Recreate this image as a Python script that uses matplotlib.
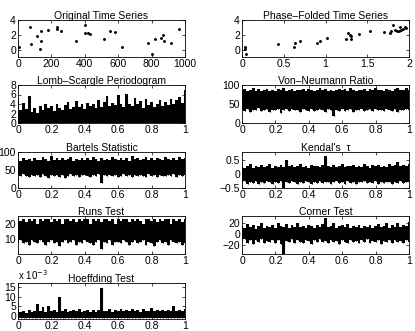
import numpy as np
import matplotlib
matplotlib.use('Agg')
import matplotlib.pyplot as plt

plt.rcParams['font.family'] = ['Liberation Sans', 'DejaVu Sans']

# original (unfolded) time series
t_orig = [5, 70, 76, 116, 130, 140, 140, 180, 234, 236, 256, 348, 400, 402, 418, 434,
          514, 550, 580, 624, 776, 802, 820, 856, 870, 872, 916, 966]
y_orig = [0.3, 3.1, 0.7, 1.9, 0.05, 2.5, 1.1, 2.6, 3.1, 2.8, 2.5, 1.1, 3.3, 2.3, 2.3, 2.1,
          1.4, 2.5, 2.4, 0.3, 0.9, -0.6, 1.4, 1.6, 2.0, 1.1, 0.85, 2.8]

# phase-folded series
phase = [0.03, 0.04, 0.05, 0.43, 0.62, 0.63, 0.69, 0.90, 0.94, 1.02, 1.25, 1.27, 1.29, 1.30,
         1.30, 1.40, 1.53, 1.70, 1.77, 1.79, 1.81, 1.83, 1.86, 1.88, 1.89, 1.91, 1.93, 1.95, 1.97]
y_phase = [0.3, 0.1, -0.6, 0.7, 0.3, 0.85, 1.1, 0.9, 1.1, 1.6, 1.4, 2.3, 2.0, 1.9,
           1.4, 2.1, 2.5, 2.4, 2.3, 2.5, 3.3, 2.6, 2.5, 2.5, 3.0, 2.6, 2.8, 3.1, 2.9]

# periodogram / statistic envelopes vs normalised frequency (upper, lower)
lomb_hi = [5.0, 2.8, 4.2, 3.0, 5.6, 2.4, 3.1, 2.2, 3.6, 2.7, 3.9, 3.1, 3.5, 2.6, 4.0, 3.2,
           2.8, 3.8, 4.4, 3.0, 3.3, 4.6, 3.4, 3.9, 2.9, 4.2, 3.6, 4.1, 3.2, 4.8, 3.4, 4.5,
           5.7, 3.6, 4.2, 3.8, 5.9, 4.0, 3.3, 6.2, 4.1, 3.5, 5.3, 3.9, 4.6, 3.2, 5.0, 3.7,
           4.4, 3.4, 4.1, 4.9, 3.5, 4.4, 3.8, 5.1, 3.9, 4.8, 5.5, 4.2, 7.0]
lomb_lo = [0.0] * 61

vn_hi = [86, 90, 84, 88, 91, 85, 89, 83, 87, 90, 85, 88, 84, 89, 86, 91, 85, 87, 90, 84,
         88, 86, 89, 85, 90, 87, 84, 88, 91, 86, 89, 85, 88, 84, 87, 90, 86, 89, 85, 91,
         87, 84, 88, 86, 90, 85, 89, 87, 91, 86, 88, 84, 90, 87, 85, 89, 91, 86, 88, 92, 87]
vn_lo = [36, 32, 38, 30, 35, 33, 39, 31, 34, 37, 29, 35, 33, 38, 26, 34, 36, 31, 37, 33,
         35, 30, 38, 34, 32, 36, 31, 35, 37, 33, 30, 36, 34, 18, 35, 32, 38, 31, 34, 36,
         30, 35, 33, 37, 31, 34, 36, 32, 38, 33, 35, 31, 37, 34, 32, 36, 30, 35, 33, 37, 34]

bartels_hi = [80, 76, 83, 78, 81, 75, 84, 79, 77, 85, 80, 76, 90, 79, 82, 77, 83, 78, 80, 86,
              76, 81, 79, 84, 77, 82, 78, 85, 80, 76, 83, 79, 81, 77, 86, 80, 78, 84, 79, 82,
              76, 88, 80, 83, 77, 81, 85, 79, 82, 78, 84, 80, 77, 86, 81, 79, 83, 78, 85, 80, 82]
bartels_lo = [36, 32, 38, 34, 30, 37, 33, 35, 31, 38, 34, 29, 36, 33, 37, 31, 35, 28, 34, 38,
              32, 36, 30, 35, 37, 33, 31, 36, 34, 38, 14, 35, 32, 37, 33, 36, 30, 34, 38, 32,
              35, 31, 37, 33, 36, 34, 30, 38, 33, 35, 31, 37, 34, 32, 36, 33, 38, 31, 35, 34, 37]

kendal_hi = [0.30, 0.22, 0.28, 0.35, 0.24, 0.30, 0.26, 0.33, 0.25, 0.29, 0.36, 0.24, 0.31,
             0.27, 0.34, 0.26, 0.50, 0.28, 0.32, 0.25, 0.30, 0.35, 0.27, 0.31, 0.24, 0.33,
             0.28, 0.30, 0.26, 0.34, 0.65, 0.29, 0.25, 0.32, 0.27, 0.30, 0.36, 0.26, 0.31,
             0.28, 0.33, 0.25, 0.30, 0.27, 0.35, 0.29, 0.24, 0.32, 0.28, 0.34, 0.26, 0.31,
             0.27, 0.38, 0.29, 0.33, 0.45, 0.28, 0.32, 0.30, 0.35]
kendal_lo = [-0.30, -0.24, -0.34, -0.27, -0.31, -0.25, -0.36, -0.28, -0.32, -0.26, -0.30,
             -0.35, -0.27, -0.31, -0.24, -0.50, -0.29, -0.33, -0.26, -0.30, -0.35, -0.27,
             -0.32, -0.25, -0.29, -0.34, -0.28, -0.31, -0.26, -0.33, -0.30, -0.27, -0.36,
             -0.29, -0.25, -0.32, -0.28, -0.34, -0.26, -0.31, -0.29, -0.35, -0.27, -0.30,
             -0.24, -0.33, -0.28, -0.31, -0.26, -0.34, -0.29, -0.32, -0.27, -0.30, -0.35,
             -0.28, -0.31, -0.26, -0.33, -0.29, -0.30]

runs_hi = [23, 22, 23, 21, 23, 22, 23, 20, 23, 22, 23, 23, 21, 23, 22, 23, 20, 23, 23, 22,
           23, 21, 23, 22, 23, 23, 20, 23, 22, 23, 21, 23, 23, 22, 23, 20, 23, 22, 23, 23,
           21, 23, 22, 23, 22, 20, 23, 23, 22, 23, 21, 23, 22, 23, 23, 20, 23, 22, 23, 21, 23]
runs_lo = [8, 9, 7, 8, 6, 9, 8, 7, 9, 8, 6, 8, 9, 7, 8, 5, 8, 9, 7, 8, 9, 6, 8, 7, 9, 8, 7,
           6, 8, 9, 3, 8, 7, 9, 6, 8, 8, 7, 9, 8, 6, 8, 9, 7, 8, 9, 6, 8, 7, 5, 8, 9, 7, 8,
           6, 9, 8, 7, 8, 6, 7]

corner_hi = [15, 10, 18, 12, 16, 9, 14, 19, 11, 15, 13, 17, 10, 20, 14, 12, 18, 11, 16, 13,
             19, 12, 15, 10, 17, 14, 11, 16, 13, 18, 28, 12, 15, 19, 11, 14, 16, 12, 18, 10,
             15, 13, 17, 11, 14, 12, 16, 10, 15, 18, 12, 14, 20, 11, 16, 13, 19, 12, 17, 14, 22]
corner_lo = [-12, -8, -15, -10, -17, -11, -14, -9, -16, -12, -13, -10, -15, -11, -17, -35,
             -12, -14, -9, -16, -11, -13, -15, -10, -12, -17, -11, -14, -9, -13, -12, -16,
             -10, -14, -12, -17, -11, -13, -15, -10, -14, -12, -16, -11, -13, -9, -15, -12,
             -14, -10, -17, -12, -13, -11, -16, -10, -14, -12, -15, -11, -13]

# Hoeffding values in units of 1e-3
hoef_hi = [3.5, 2.0, 2.5, 1.8, 3.0, 2.2, 2.8, 6.0, 2.4, 4.5, 2.0, 5.0, 2.6, 3.2, 2.1, 10.0,
           2.5, 3.5, 2.2, 2.8, 3.0, 2.4, 3.4, 2.0, 2.6, 3.1, 2.3, 2.9, 2.1, 3.3, 14.5, 2.4,
           2.8, 3.5, 2.2, 3.0, 2.6, 3.8, 2.4, 3.2, 2.7, 3.6, 2.5, 3.0, 2.3, 3.4, 2.8, 2.5,
           3.9, 2.6, 3.1, 2.4, 3.3, 2.7, 3.0, 2.5, 5.0, 2.8, 3.2, 2.6, 3.4]
hoef_lo = [-1.0] * 61

W, H = 415, 331
fig = plt.figure(figsize=(W / 100, H / 100), dpi=100)


def make_ax(x0, x1, y0, y1):
    ax = fig.add_axes([x0 / W, 1 - y1 / H, (x1 - x0) / W, (y1 - y0) / H])
    ax.tick_params(direction='in', length=2, width=0.5, labelsize=7.5, pad=1.5,
                   top=True, right=True)
    for s in ax.spines.values():
        s.set_linewidth(0.6)
    return ax


LX = (18, 185)
RX = (242, 409)
rows = [(20, 57), (85, 123), (152, 188), (216, 254), (283, 319)]

# scatter panels
ax = make_ax(*LX, *rows[0])
ax.plot(t_orig, y_orig, 'k.', ms=2.2)
ax.set_xlim(0, 1000)
ax.set_ylim(-1, 4)
ax.set_yticks([0, 2, 4])
ax.set_xticks([0, 200, 400, 600, 800, 1000])
ax.set_title('Original Time Series', fontsize=7.5, pad=1)

ax = make_ax(*RX, *rows[0])
ax.plot(phase, y_phase, 'k.', ms=2.2)
ax.set_xlim(0, 2)
ax.set_ylim(-1, 4)
ax.set_yticks([0, 2, 4])
ax.set_xticks([0, 0.5, 1, 1.5, 2])
ax.set_xticklabels(['0', '0.5', '1', '1.5', '2'])
ax.set_title('Phase\u2013Folded Time Series', fontsize=7.5, pad=1)

panels = [
    (LX, rows[1], lomb_hi, lomb_lo, (0, 8), [0, 2, 4, 6, 8], 'Lomb\u2013Scargle Periodogram'),
    (RX, rows[1], vn_hi, vn_lo, (0, 100), [0, 50, 100], 'Von\u2013Neumann Ratio'),
    (LX, rows[2], bartels_hi, bartels_lo, (0, 100), [0, 50, 100], 'Bartels Statistic'),
    (RX, rows[2], kendal_hi, kendal_lo, (-0.5, 0.8), [-0.5, 0, 0.5], "Kendal's  \u03c4"),
    (LX, rows[3], runs_hi, runs_lo, (0, 25), [10, 20], 'Runs Test'),
    (RX, rows[3], corner_hi, corner_lo, (-35, 32), [-20, 0, 20], 'Corner Test'),
    (LX, rows[4], hoef_hi, hoef_lo, (-1.5, 17), [0, 5, 10, 15], 'Hoeffding Test'),
]

for xs, ys, hi, lo, ylim, yt, title in panels:
    ax = make_ax(*xs, *ys)
    f = np.linspace(0, 1, len(hi))
    ax.fill_between(f, lo, hi, step='mid', color='k', lw=0)
    ax.vlines(f, lo, hi, colors='k', lw=0.8)
    ax.set_xlim(0, 1)
    ax.set_ylim(*ylim)
    ax.set_yticks(yt)
    ax.set_yticklabels([('%g' % v).replace('-', '\u2212') for v in yt])
    ax.set_xticks([0, 0.2, 0.4, 0.6, 0.8, 1])
    ax.set_xticklabels(['0', '0.2', '0.4', '0.6', '0.8', '1'])
    ax.set_title(title, fontsize=7.5, pad=1)
    if title == 'Hoeffding Test':
        ax.text(0.0, 1.02, 'x 10$^{-3}$', transform=ax.transAxes, fontsize=7,
                ha='left', va='bottom')

fig.savefig('out.png', dpi=100)
